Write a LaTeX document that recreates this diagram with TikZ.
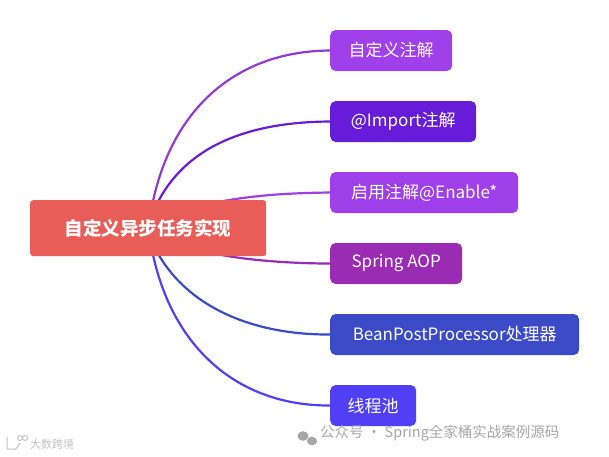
\documentclass[tikz,border=0pt]{standalone}
\usepackage{fontspec}
\setmainfont{Noto Sans CJK SC}
\usetikzlibrary{backgrounds,calc}
\definecolor{rootc}{HTML}{E95D58}
\definecolor{pa}{HTML}{A040EA}
\definecolor{pb}{HTML}{671CD9}
\definecolor{pc}{HTML}{9E3FEA}
\definecolor{pd}{HTML}{9A2BB3}
\definecolor{pe}{HTML}{3B4AC6}
\definecolor{pf}{HTML}{503FF5}
\definecolor{wm}{HTML}{A6A6A6}
\tikzset{
  x=1pt,y=-1pt,
  box/.style={anchor=west,rounded corners=5.5pt,minimum height=41pt,inner sep=0pt,text=white,font=\fontsize{17}{20}\selectfont},
  rootbox/.style={anchor=north west,rounded corners=3pt,fill=rootc,minimum width=236pt,minimum height=56pt,inner sep=0pt,text=white,font=\fontsize{18.5}{22}\selectfont\bfseries},
  link/.style={line width=2.2pt,line cap=round},
  wmark/.style={text=wm,inner sep=0pt,anchor=west}
}
\begin{document}
\begin{tikzpicture}
\useasboundingbox (0,0) rectangle (609,456);
\node[rootbox] (root) at (30,200) {自定义异步任务实现};
\node[box,fill=pa,minimum width=122pt] (n1) at (330,50.5) {自定义注解};
\node[box,fill=pb,minimum width=146pt] (n2) at (330,121.5) {@Import注解};
\node[box,fill=pc,minimum width=188pt] (n3) at (330,192.5) {启用注解@Enable*};
\node[box,fill=pd,minimum width=132pt] (n4) at (330,263.5) {Spring AOP};
\node[box,fill=pe,minimum width=249pt] (n5) at (330,334.5) {BeanPostProcessor处理器};
\node[box,fill=pf,minimum width=86pt] (n6) at (330,405.5) {线程池};
\coordinate (s1) at (152,206);
\coordinate (s2) at (156,206);
\coordinate (s3) at (200,206);
\coordinate (s4) at (200,250);
\coordinate (s5) at (156,250);
\coordinate (s6) at (152,250);
\begin{scope}[on background layer]
\draw[link,pa!90!black] (s1) .. controls (172,105) and (240,51) .. (n1.west);
\draw[link,pb] (s2) .. controls (185,145) and (250,122) .. (n2.west);
\draw[link,pc] (s3) .. controls (245,195) and (290,193) .. (n3.west);
\draw[link,pd] (s4) .. controls (235,260) and (290,263.5) .. (n4.west);
\draw[link,pe] (s5) .. controls (185,305) and (250,335) .. (n5.west);
\draw[link,pf] (s6) .. controls (172,350) and (240,406) .. (n6.west);
\end{scope}
\fill[wm] (303,436) ellipse [x radius=5.5,y radius=4.8];
\fill[wm] (312,441) ellipse [x radius=5,y radius=4.3];
\node[wmark,font=\fontsize{14.5}{17}\selectfont] (wt) at (320,433) {公众号 · Spring全家桶实战案例源码};
\node[wmark,text=wm!70,font=\fontsize{11}{13}\selectfont] (ws) at (30,444) {大数跨境};
\draw[wm!70,line width=1pt,rounded corners=1pt] (7,437) -- (7,449) -- (16,449) -- (20,443);
\draw[wm!70,line width=0.9pt] (20,438) circle [radius=2.5] (25,438) circle [radius=2.5];
\end{tikzpicture}
\end{document}
